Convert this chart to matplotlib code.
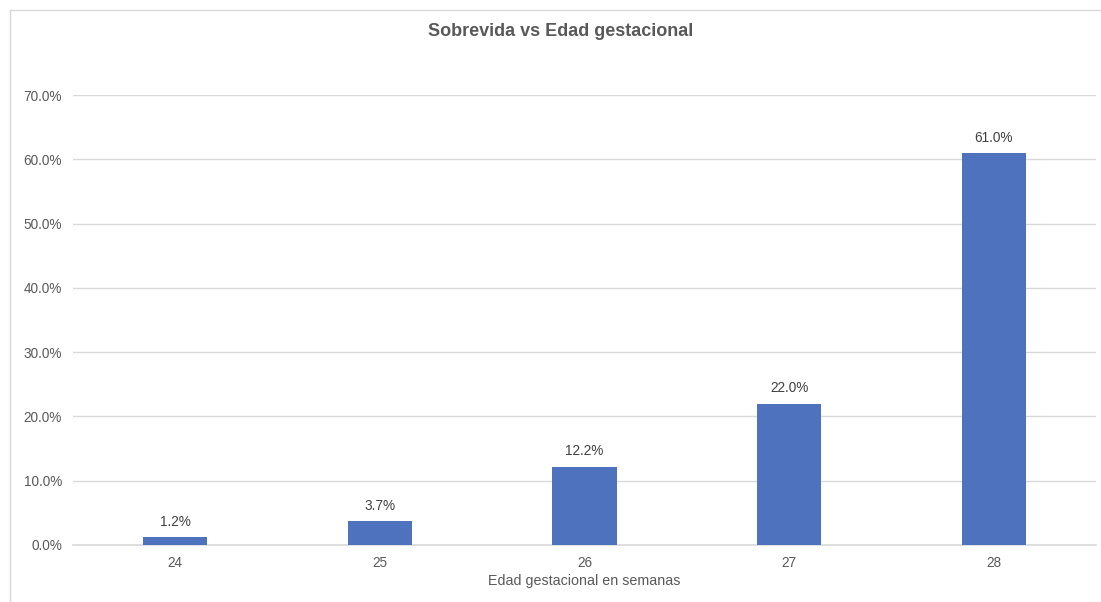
import matplotlib
matplotlib.use("Agg")
import matplotlib.pyplot as plt
from matplotlib.ticker import FuncFormatter, MultipleLocator
from matplotlib.lines import Line2D

categories = ["24", "25", "26", "27", "28"]
values = [1.2, 3.7, 12.2, 22.0, 61.0]
labels = ["1.2%", "3.7%", "12.2%", "22.0%", "61.0%"]

plt.rcParams['font.family'] = ['Liberation Sans', 'DejaVu Sans']
fig = plt.figure(figsize=(11.01, 6.02), dpi=100)
ax = fig.add_axes([73/1101, 1-545/602, (1096-73)/1101, (545-95)/602])

x = list(range(len(categories)))
bars = ax.bar(x, values, width=0.313, color='#4e72be', zorder=3)
for xi, v, lab in zip(x, values, labels):
    ax.annotate(lab, (xi, v), xytext=(0, 6), textcoords='offset points',
                ha='center', va='bottom', fontsize=9.8, color='#404040')

ax.set_xlim(-0.5, len(categories) - 0.5)
ax.set_ylim(0, 70)
ax.yaxis.set_major_locator(MultipleLocator(10))
ax.yaxis.set_major_formatter(FuncFormatter(lambda v, p: f"{v:.1f}%"))
ax.set_xticks(x)
ax.set_xticklabels(categories)
ax.grid(axis='y', color='#d9d9d9', linewidth=1, zorder=0)
ax.axhline(0, color='#d9d9d9', linewidth=1.2, zorder=2, clip_on=False)
for s in ax.spines.values():
    s.set_visible(False)
ax.tick_params(length=0, labelsize=9.8, labelcolor='#595959')
ax.tick_params(axis='y', pad=8)
ax.tick_params(axis='x', pad=8)
ax.set_xlabel("Edad gestacional en semanas", fontsize=10.3, color='#595959', labelpad=3)

fig.text(561/1101, 1-32/602, "Sobrevida vs Edad gestacional", ha='center', va='center',
         fontsize=13, fontweight='bold', color='#595959')

# outer chart border (left and top visible)
fig.add_artist(Line2D([10/1101, 10/1101], [0, 1-10/602], transform=fig.transFigure, color='#d9d9d9', lw=1))
fig.add_artist(Line2D([10/1101, 1], [1-10/602, 1-10/602], transform=fig.transFigure, color='#d9d9d9', lw=1))

fig.savefig("out.png", dpi=100)
